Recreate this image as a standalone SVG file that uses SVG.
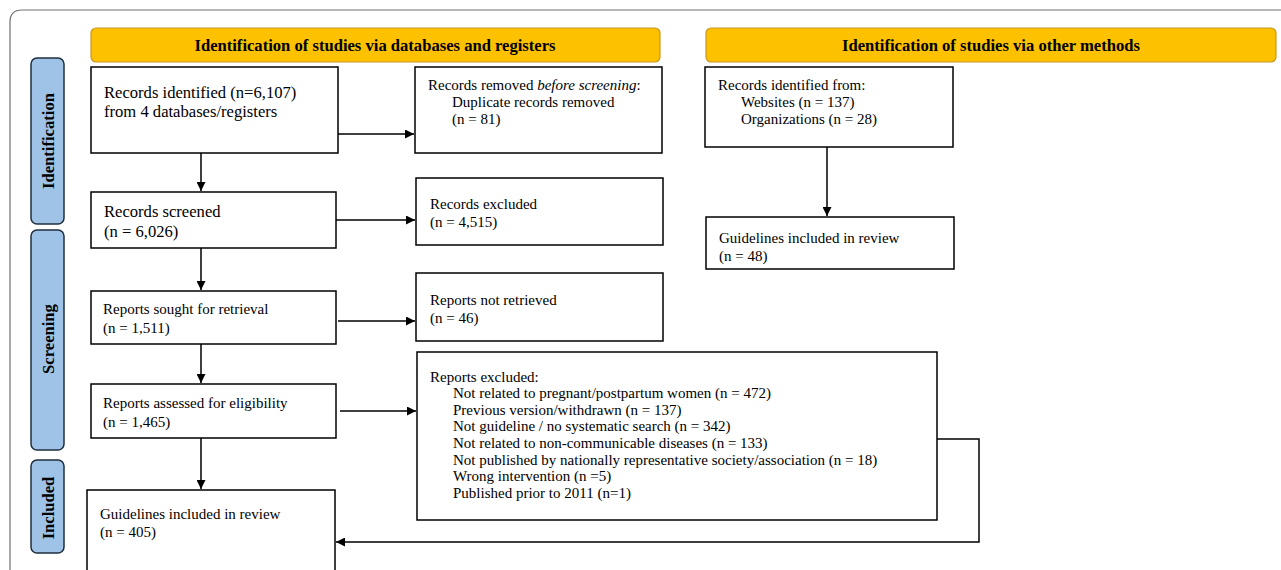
<svg xmlns="http://www.w3.org/2000/svg" width="1281" height="570" viewBox="0 0 1281 570">
<defs>
<marker id="ah" viewBox="0 0 10 10" refX="10" refY="5" markerWidth="9" markerHeight="9" markerUnits="userSpaceOnUse" orient="auto">
<path d="M0,0 L10,5 L0,10 z" fill="#000"/>
</marker>
<style>
.box{fill:#fff;stroke:#000;stroke-width:1.5}
.hdr{fill:#fdc100;stroke:#c8961e;stroke-width:1.2}
.side{fill:#9fc3e7;stroke:#1f2f3f;stroke-width:1.5}
.t{font-family:"Liberation Serif","Times New Roman",serif;font-size:15px;fill:#000}
.s{font-family:"Liberation Serif","Times New Roman",serif;font-size:15px;fill:#000}
.big{font-family:"Liberation Serif","Times New Roman",serif;font-size:16.6px;fill:#000}
.b{font-family:"Liberation Serif","Times New Roman",serif;font-size:16.6px;font-weight:bold;fill:#000}
.c{fill:none;stroke:#000;stroke-width:1.5}
</style>
</defs>
<rect width="1281" height="570" fill="#fff"/>
<path d="M10,580 L10,22 Q10,10 22,10 L1290,10" fill="none" stroke="#707070" stroke-width="1.2"/>

<g id="side-identification"><rect class="side" x="31" y="58" width="33" height="166" rx="6"/><text class="b" transform="translate(54,141) rotate(-90)" text-anchor="middle">Identification</text></g>
<g id="side-screening"><rect class="side" x="31" y="230" width="33" height="220" rx="6"/><text class="b" transform="translate(54,339) rotate(-90)" text-anchor="middle">Screening</text></g>
<g id="side-included"><rect class="side" x="31" y="460" width="33" height="93" rx="6"/><text class="b" transform="translate(54,508) rotate(-90)" text-anchor="middle">Included</text></g>

<g id="hdr-db"><rect class="hdr" x="91" y="28" width="569" height="34" rx="5"/><text class="b" x="375" y="51" text-anchor="middle">Identification of studies via databases and registers</text></g>
<g id="hdr-other"><rect class="hdr" x="706" y="28" width="570" height="34" rx="5"/><text class="b" x="991" y="51" text-anchor="middle">Identification of studies via other methods</text></g>

<g id="n-identified"><rect class="box" x="91" y="67" width="247" height="86"/><text class="big" x="104" y="98">Records identified (n=6,107)</text><text class="big" x="104" y="117">from 4 databases/registers</text></g>
<g id="n-removed"><rect class="box" x="415" y="67" width="247" height="86"/><text class="s" x="428" y="90">Records removed <tspan font-style="italic">before screening</tspan>:</text><text class="s" x="452" y="107">Duplicate records removed</text><text class="s" x="452" y="124">(n = 81)</text></g>
<g id="n-screened"><rect class="box" x="91" y="192" width="245" height="56"/><text class="big" x="104" y="217">Records screened</text><text class="big" x="104" y="237">(n = 6,026)</text></g>
<g id="n-excluded"><rect class="box" x="416" y="178" width="247" height="67"/><text class="s" x="430" y="209">Records excluded</text><text class="s" x="430" y="227">(n = 4,515)</text></g>
<g id="n-sought"><rect class="box" x="91" y="291" width="245" height="53"/><text class="t" x="103" y="314">Reports sought for retrieval</text><text class="t" x="103" y="333">(n = 1,511)</text></g>
<g id="n-notretrieved"><rect class="box" x="416" y="273" width="247" height="68"/><text class="s" x="430" y="305">Reports not retrieved</text><text class="s" x="430" y="323">(n = 46)</text></g>
<g id="n-assessed"><rect class="box" x="91" y="384" width="245" height="54"/><text class="t" x="103" y="408">Reports assessed for eligibility</text><text class="t" x="103" y="427">(n = 1,465)</text></g>
<g id="n-repexcluded"><rect class="box" x="417" y="352" width="520" height="168"/>
<text class="s" x="430" y="382">Reports excluded:</text>
<text class="s" x="453" y="398">Not related to pregnant/postpartum women (n = 472)</text>
<text class="s" x="453" y="415">Previous version/withdrawn (n = 137)</text>
<text class="s" x="453" y="431">Not guideline / no systematic search (n = 342)</text>
<text class="s" x="453" y="448">Not related to non-communicable diseases (n = 133)</text>
<text class="s" x="453" y="465">Not published by nationally representative society/association (n = 18)</text>
<text class="s" x="453" y="481">Wrong intervention (n =5)</text>
<text class="s" x="453" y="498">Published prior to 2011 (n=1)</text></g>
<g id="n-included"><rect class="box" x="87" y="490" width="248" height="90"/><text class="t" x="100" y="519">Guidelines included in review</text><text class="t" x="100" y="537">(n = 405)</text></g>
<g id="n-other"><rect class="box" x="705" y="67" width="248" height="80"/><text class="s" x="718" y="90">Records identified from:</text><text class="s" x="741" y="107">Websites (n = 137)</text><text class="s" x="741" y="124">Organizations (n = 28)</text></g>
<g id="n-otherincl"><rect class="box" x="706" y="217" width="248" height="52"/><text class="s" x="719" y="243">Guidelines included in review</text><text class="s" x="719" y="261">(n = 48)</text></g>

<g id="connectors">
<line class="c" x1="201" y1="153" x2="201" y2="191" marker-end="url(#ah)"/>
<line class="c" x1="201" y1="248" x2="201" y2="290" marker-end="url(#ah)"/>
<line class="c" x1="201" y1="344" x2="201" y2="383" marker-end="url(#ah)"/>
<line class="c" x1="201" y1="438" x2="201" y2="489" marker-end="url(#ah)"/>
<line class="c" x1="338" y1="134" x2="414" y2="134" marker-end="url(#ah)"/>
<line class="c" x1="336" y1="220" x2="415" y2="220" marker-end="url(#ah)"/>
<line class="c" x1="338" y1="321" x2="415" y2="321" marker-end="url(#ah)"/>
<line class="c" x1="340" y1="411" x2="416" y2="411" marker-end="url(#ah)"/>
<line class="c" x1="827" y1="147" x2="827" y2="216" marker-end="url(#ah)"/>
<polyline class="c" points="937,439 979,439 979,542 336,542" marker-end="url(#ah)"/>
</g>
</svg>
